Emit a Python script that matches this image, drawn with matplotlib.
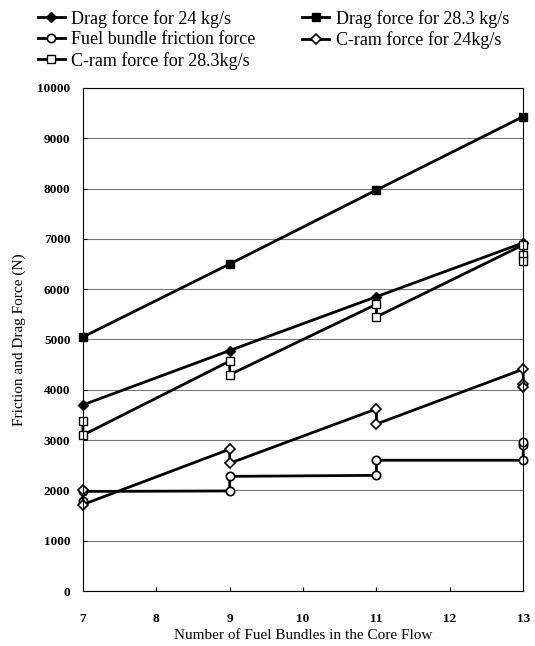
import matplotlib.pyplot as plt
from matplotlib.ticker import MultipleLocator

plt.rcParams['font.family'] = ['Liberation Serif', 'DejaVu Serif']

# single-valued drag curves
drag_x = [7, 9, 11, 13]
drag_24 = [3700, 4780, 5850, 6920]
drag_283 = [5050, 6500, 7970, 9430]

# C-ram / friction curves have two values at each bundle count
fric_x = [7, 7, 9, 9, 11, 11, 13, 13, 13]
fric = [1800, 1980, 1990, 2280, 2300, 2600, 2600, 2900, 2960]

cram24_x = [7, 7, 9, 9, 11, 11, 13, 13, 13]
cram24 = [2000, 1720, 2820, 2540, 3620, 3320, 4410, 4120, 4050]

cram283_x = [7, 7, 9, 9, 11, 11, 13, 13, 13]
cram283 = [3380, 3100, 4570, 4300, 5700, 5450, 6880, 6680, 6560]

labels = ["Drag force for 24 kg/s", "Fuel bundle friction force",
          "C-ram force for 28.3kg/s", "Drag force for 28.3 kg/s",
          "C-ram force for 24kg/s"]

fig = plt.figure(figsize=(5.35, 6.46), dpi=100)
ax = fig.add_axes([0.155, 0.085, 0.823, 0.779])

lw = 2.0
h1, = ax.plot(drag_x, drag_24, color='black', lw=lw, marker='D', ms=5,
              mfc='black', mec='black', clip_on=False)
h2, = ax.plot(fric_x, fric, color='black', lw=lw, marker='o', ms=6,
              mfc='white', mec='black', mew=1.2, clip_on=False)
h3, = ax.plot(cram283_x, cram283, color='black', lw=lw, marker='s', ms=6,
              mfc='white', mec='black', mew=1.0, clip_on=False)
h4, = ax.plot(drag_x, drag_283, color='black', lw=lw, marker='s', ms=6,
              mfc='black', mec='black', clip_on=False)
h5, = ax.plot(cram24_x, cram24, color='black', lw=lw, marker='D', ms=5.5,
              mfc='white', mec='black', mew=1.2, clip_on=False)

ax.set_xlim(7, 13)
ax.set_ylim(0, 10000)
ax.yaxis.set_major_locator(MultipleLocator(1000))
ax.xaxis.set_major_locator(MultipleLocator(1))
ax.grid(axis='y', color='#777777', lw=0.8)
ax.set_axisbelow(True)
ax.tick_params(axis='both', labelsize=9.5, direction='in', length=3)
ax.tick_params(axis='x', pad=16)
ax.tick_params(axis='y', pad=9)
for t in ax.get_xticklabels() + ax.get_yticklabels():
    t.set_fontweight('bold')
ax.set_xlabel("Number of Fuel Bundles in the Core Flow", fontsize=11, labelpad=3)
ax.set_ylabel("Friction and Drag Force (N)", fontsize=11, labelpad=8)

fig.legend([h1, h2, h3, h4, h5], labels, ncol=2, loc='upper left',
           bbox_to_anchor=(0.04, 1.01), frameon=False, fontsize=13,
           handlelength=1.5, handletextpad=0.35, columnspacing=2.6,
           labelspacing=0.2)

fig.savefig("out.png", dpi=100)
